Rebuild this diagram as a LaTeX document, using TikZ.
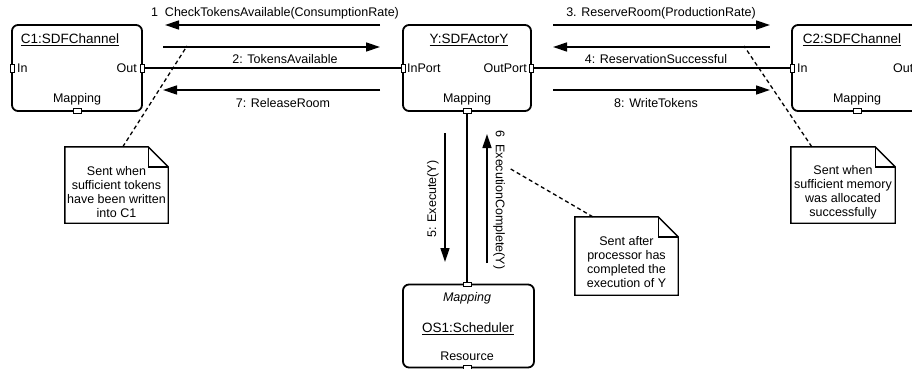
\documentclass[tikz,border=0pt]{standalone}
\usepackage{fontspec}
\setmainfont{Liberation Sans}
\usetikzlibrary{arrows.meta}
\begin{document}
\begin{tikzpicture}[x=1pt,y=-1pt,
  every node/.style={font=\fontsize{12.5}{14}\selectfont, inner sep=0pt},
  objbox/.style={draw, line width=1.8pt, rounded corners=6pt, minimum height=86pt},
  objtitle/.style={font=\fontsize{13.5}{15}\selectfont},
  vport/.style={draw, fill=white, line width=1pt, minimum width=4pt, minimum height=8pt},
  hport/.style={draw, fill=white, line width=1pt, minimum width=8pt, minimum height=4.5pt},
  link/.style={line width=1.8pt},
  msg/.style={line width=1.4pt, -{Triangle[length=14pt,width=9pt]}},
  notebox/.style={minimum height=76pt},
  noteline/.style={line width=1.4pt, line join=miter},
  notetext/.style={align=center},
  anchorline/.style={line width=1.3pt, dash pattern=on 4pt off 3pt}]
\useasboundingbox (0,0) rectangle (912,369);

% ---------- objects ----------
\node[objbox, minimum width=130pt] (c1) at (77,68) {};
\node[objbox, minimum width=128pt] (y)  at (467,68) {};
\node[objbox, minimum width=130pt] (c2) at (857,68) {};
\node[objbox, minimum width=131pt, minimum height=83pt] (os) at (468.5,326) {};

% object texts
\node[objtitle] (c1title) at (70,40) {\underline{C1:SDFChannel}};
\node[anchor=west] (c1inlbl) at (17,68) {In};
\node[anchor=east] (c1outlbl) at (137,68) {Out};
\node (c1maplbl) at (77,99) {Mapping};

\node[objtitle] (ytitle) at (469,40) {\underline{Y:SDFActorY}};
\node[anchor=west] (yinlbl) at (407,68) {InPort};
\node[anchor=east] (youtlbl) at (527,68) {OutPort};
\node (ymaplbl) at (467,99) {Mapping};

\node[objtitle] (c2title) at (852,40) {\underline{C2:SDFChannel}};
\node[anchor=west] (c2inlbl) at (797,68) {In};
\node[anchor=west] (c2outlbl) at (893,68) {Out};
\node (c2maplbl) at (857,99) {Mapping};

\node (osmaplbl) at (467,298) {\itshape Mapping};
\node[objtitle] (ostitle) at (468,329) {\underline{OS1:Scheduler}};
\node (osreslbl) at (467,356) {Resource};

% ports
\node[vport] (c1in)  at (12,68) {};
\node[vport] (c1out) at (142,68) {};
\node[hport] (c1map) at (77,111) {};
\node[vport] (yin)   at (403,68) {};
\node[vport] (yout)  at (531,68) {};
\node[hport] (ymap)  at (467,111) {};
\node[vport] (c2in)  at (792,68) {};
\node[vport] (c2out) at (922,68) {};
\node[hport] (c2map) at (857,111) {};
\node[hport] (osmap) at (467,284.5) {};
\node[hport] (osres) at (467,367.5) {};

% links
\draw[link] (c1out.east) -- (yin.west);
\draw[link] (yout.east) -- (c2in.west);
\draw[link] (ymap.south) -- (osmap.north);

% ---------- messages ----------
\coordinate (m1a) at (380,25);  \coordinate (m1b) at (165,25);
\coordinate (m2a) at (163,47);  \coordinate (m2b) at (380,47);
\coordinate (m7a) at (380,90);  \coordinate (m7b) at (163,90);
\coordinate (m3a) at (553,25);  \coordinate (m3b) at (770,25);
\coordinate (m4a) at (770,47);  \coordinate (m4b) at (553,47);
\coordinate (m8a) at (553,90);  \coordinate (m8b) at (770,90);
\coordinate (m5a) at (445,133); \coordinate (m5b) at (445,262);
\coordinate (m6a) at (487,263); \coordinate (m6b) at (487,134);

\draw[msg] (m1a) -- (m1b);
\draw[msg] (m2a) -- (m2b);
\draw[msg] (m7a) -- (m7b);
\draw[msg] (m3a) -- (m3b);
\draw[msg] (m4a) -- (m4b);
\draw[msg] (m8a) -- (m8b);
\draw[msg] (m5a) -- (m5b);
\draw[msg] (m6a) -- (m6b);

\node (l1) at (275,13) {1\ \ CheckTokensAvailable(ConsumptionRate)};
\node (l2) at (285,59) {2: TokensAvailable};
\node (l7) at (283,103) {7: ReleaseRoom};
\node (l3) at (661,13) {3. ReserveRoom(ProductionRate)};
\node (l4) at (656,59) {4: ReservationSuccessful};
\node (l8) at (656,103) {8: WriteTokens};
\node[rotate=90] (l5) at (433,199) {5: Execute(Y)};
\node[rotate=-90] (l6) at (499,200) {6\ \ ExecutionComplete(Y)};

% ---------- notes ----------
\node[notebox, minimum width=103pt] (n1) at (116.5,185) {};
\node[notebox, minimum width=104pt] (n2) at (843,185) {};
\node[notebox, minimum width=103pt, minimum height=78pt] (n3) at (626.5,256) {};

\foreach \n in {n1,n2,n3}{
  \draw[noteline] (\n.north west) -- ([xshift=-20pt]\n.north east)
     -- ([yshift=-20pt]\n.north east) -- (\n.south east) -- (\n.south west) -- cycle;
  \draw[noteline] ([xshift=-20pt]\n.north east) -- ([xshift=-20pt,yshift=-20pt]\n.north east)
     -- ([yshift=-20pt]\n.north east);
}

\node[notetext] (n1t) at (116.5,192.5) {Sent when\\sufficient tokens\\have been written\\into C1};
\node[notetext] (n2t) at (843,192) {Sent when\\sufficient memory\\was allocated\\successfully};
\node[notetext] (n3t) at (626.5,262.5) {Sent after\\processor has\\completed the\\execution of Y};

% note anchors
\coordinate (a1) at (187,46);
\coordinate (a2) at (744,46);
\coordinate (a3) at (509,168);
\draw[anchorline] ([xshift=58pt]n1.north west) -- (a1);
\draw[anchorline] ([xshift=21pt]n2.north west) -- (a2);
\draw[anchorline] ([xshift=18pt]n3.north west) -- (a3);
\end{tikzpicture}
\end{document}
